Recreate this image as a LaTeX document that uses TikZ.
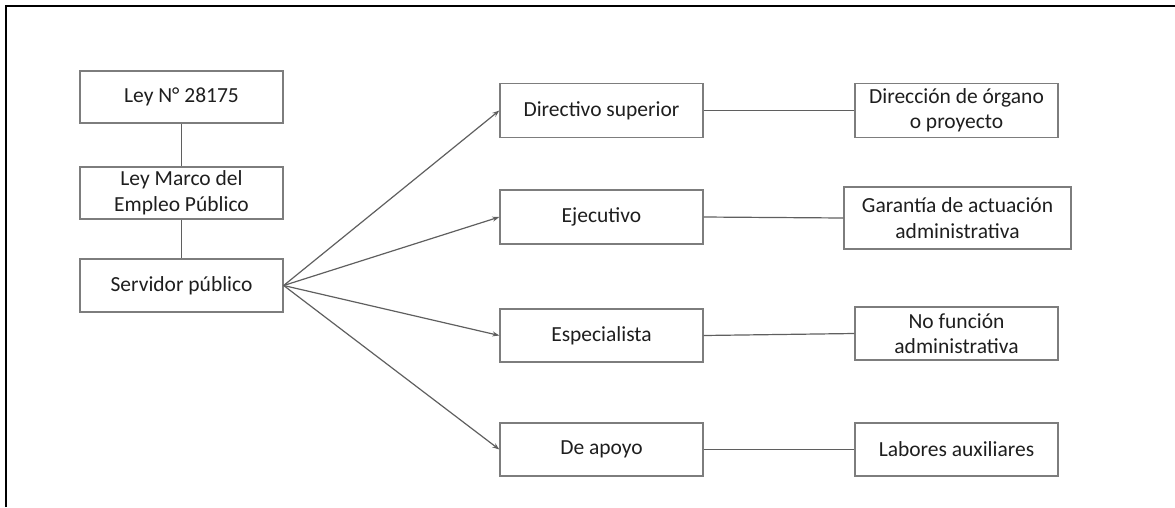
\documentclass[tikz,border=0pt]{standalone}
\usepackage{fontspec}
\setmainfont{Carlito}
\usetikzlibrary{arrows.meta}
\definecolor{boxline}{RGB}{125,125,125}
\definecolor{linkline}{RGB}{95,95,95}
\definecolor{inktext}{RGB}{30,30,30}
\begin{document}
\begin{tikzpicture}[x=1pt,y=-1pt,
  box/.style={draw=boxline,line width=1.3pt,inner sep=0pt,align=center,
    text=inktext,font=\fontsize{21.5}{25.5}\selectfont,
    minimum width=203pt,minimum height=53pt},
  link/.style={draw=linkline,line width=1.2pt},
  arrowlink/.style={link,-{Stealth[length=7pt,width=5pt]}}]
\useasboundingbox (0,0) rectangle (1175,507);
% frame along the top and left edges
\draw[line width=2.5pt,black] (6,507) -- (6,6) -- (1175,6);
% legal basis column
\node[box,minimum height=52pt] (ley) at (181.5,97) {Ley N° 28175};
\node[box,minimum height=52pt] (marco) at (181.5,193) {Ley Marco del\\Empleo Público};
\node[box] (serv) at (181.5,285.5) {Servidor público};
% categories
\node[box,minimum height=54pt] (dir) at (601.5,110.5) {Directivo superior};
\node[box,minimum height=54pt] (eje) at (601.5,217) {Ejecutivo};
\node[box] (esp) at (601.5,335.5) {Especialista};
\node[box] (apo) at (601.5,449.5) {De apoyo};
% descriptions
\node[box,minimum height=54pt] (ddir) at (956.5,110.5) {Dirección de órgano\\o proyecto};
\node[box,minimum width=227pt,minimum height=62pt] (deje) at (957.5,218) {Garantía de actuación\\administrativa};
\node[box] (desp) at (956.5,333.5) {No función\\administrativa};
\node[box] (dapo) at (956.5,449.5) {Labores auxiliares};
% connectors
\draw[link] (ley) -- (marco);
\draw[link] (marco) -- (serv);
\foreach \t in {dir,eje,esp,apo}
  \draw[arrowlink] (serv.east) -- (\t.west);
\draw[link] (dir) -- (ddir);
\draw[link] (eje.east) -- (deje.west);
\draw[link] (esp.east) -- (desp.west);
\draw[link] (apo) -- (dapo);
\end{tikzpicture}
\end{document}
